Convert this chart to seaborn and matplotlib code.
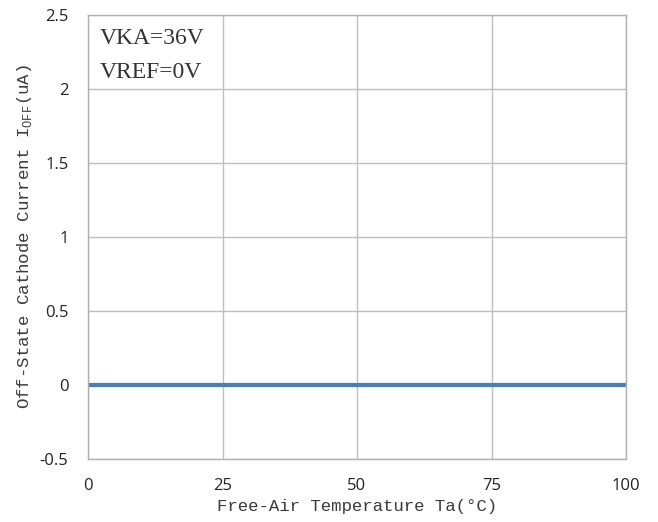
import matplotlib
matplotlib.use("Agg")
import matplotlib.pyplot as plt
import seaborn as sns
import pandas as pd

temperature = [0, 25, 50, 75, 100]
ioff_ua = [0, 0, 0, 0, 0]
x_ticks = [0, 25, 50, 75, 100]
y_ticks = [-0.5, 0, 0.5, 1, 1.5, 2, 2.5]
y_tick_labels = ["-0.5", "0", "0.5", "1", "1.5", "2", "2.5"]
annotations = ["VKA=36V", "VREF=0V"]

sns.set_theme(style="white")
plt.rcParams['font.family'] = ['DejaVu Sans']
plt.rcParams['mathtext.fontset'] = 'custom'
plt.rcParams['mathtext.rm'] = 'Liberation Mono'

df = pd.DataFrame({"Ta": temperature, "IOFF": ioff_ua})

fig = plt.figure(figsize=(6.58, 5.22), dpi=100)
ax = fig.add_axes([88/658, 1-459/522, (626-88)/658, (459-15)/522])

sns.lineplot(data=df, x="Ta", y="IOFF", ax=ax, color="#4a7ebb", linewidth=3)

ax.set_xlim(0, 100)
ax.set_ylim(-0.5, 2.5)
ax.set_xticks(x_ticks)
ax.set_xticklabels([str(t) for t in x_ticks], fontsize=12, fontfamily="Open Sans", color="#222222")
ax.set_yticks(y_ticks)
ax.set_yticklabels(y_tick_labels, fontsize=12, fontfamily="Open Sans", color="#222222")
ax.tick_params(axis="x", length=0, pad=14)
ax.tick_params(axis="y", length=0, pad=14)

ax.grid(True, color="#bfbfbf", linewidth=1)
for s in ax.spines.values():
    s.set_color("#b0b0b0")
    s.set_linewidth(1)

ax.set_xlabel("Free-Air Temperature Ta(°C)", fontsize=12.5, fontfamily="Liberation Mono",
              color="#3a3a3a", labelpad=3)
ax.set_ylabel(r"Off-State Cathode Current I$_{\mathrm{OFF}}$(uA)", fontsize=12.5,
              fontfamily="Liberation Mono", color="#3a3a3a", labelpad=4)

fig.text(100/658, 1-38/522, annotations[0], fontsize=17, fontfamily="Liberation Serif",
         color="#333333", va="center", ha="left")
fig.text(100/658, 1-72/522, annotations[1], fontsize=17, fontfamily="Liberation Serif",
         color="#333333", va="center", ha="left")

fig.savefig("out.png", dpi=100)
